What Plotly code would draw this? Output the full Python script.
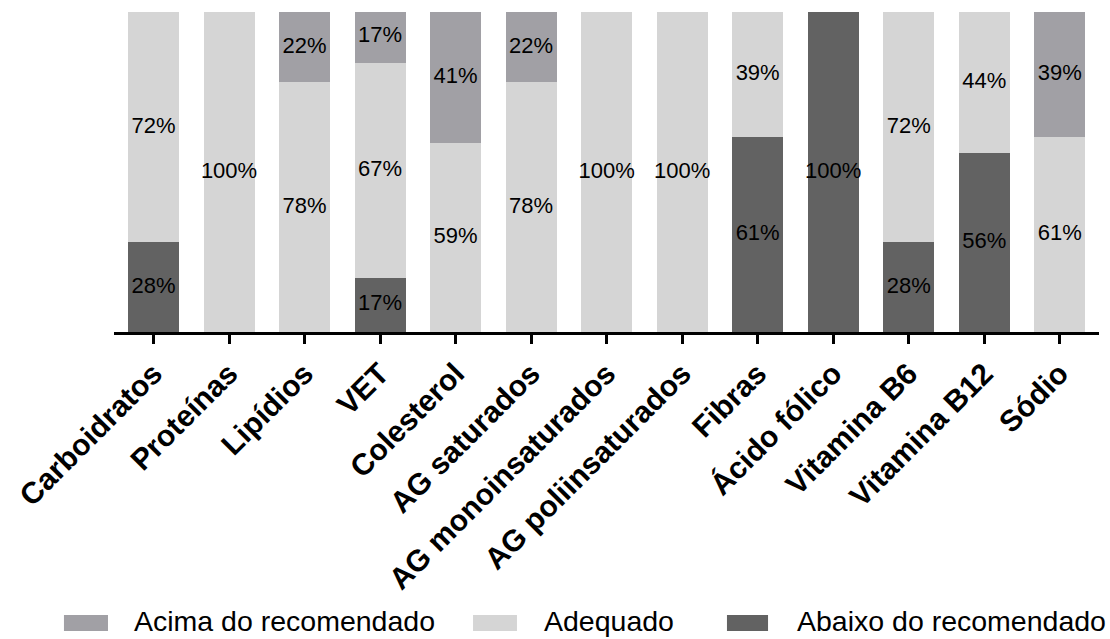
import plotly.graph_objects as go

# Nutrient categories (x axis)
categories = [
    "Carboidratos", "Proteínas", "Lipídios", "VET", "Colesterol",
    "AG saturados", "AG monoinsaturados", "AG poliinsaturados", "Fibras",
    "Ácido fólico", "Vitamina B6", "Vitamina B12", "Sódio",
]

# Share of participants (%) in each intake class
abaixo = [28, 0, 0, 17, 0, 0, 0, 0, 61, 100, 28, 56, 0]
adequado = [72, 100, 78, 67, 59, 78, 100, 100, 39, 0, 72, 44, 61]
acima = [0, 0, 22, 17, 41, 22, 0, 0, 0, 0, 0, 0, 39]

series_names = ["Abaixo do recomendado", "Adequado", "Acima do recomendado"]
series_values = [abaixo, adequado, acima]
series_colors = ["#626262", "#d5d5d5", "#a1a0a5"]

FONT = "Liberation Sans, Arial, sans-serif"

fig = go.Figure()

# Stacked bars, bottom to top
for name, vals, color in zip(series_names, series_values, series_colors):
    fig.add_trace(go.Bar(
        x=categories, y=vals, name=name,
        marker=dict(color=color, line=dict(width=0)),
        width=0.675, showlegend=False, hoverinfo="skip",
    ))

# Percentage labels at the middle of each non-empty segment
lab_x, lab_y, lab_t = [], [], []
base = [0] * len(categories)
for vals in series_values:
    for i, v in enumerate(vals):
        if v > 0:
            lab_x.append(categories[i])
            lab_y.append(base[i] + v / 2)
            lab_t.append(f"{v}%")
        base[i] += v

fig.add_trace(go.Scatter(
    x=lab_x, y=lab_y, text=lab_t, mode="text",
    textposition="middle center",
    textfont=dict(family=FONT, size=22, color="#000000"),
    showlegend=False, hoverinfo="skip", cliponaxis=False,
))

fig.update_layout(
    barmode="stack",
    width=1110, height=639,
    margin=dict(l=114, r=11, t=12, b=307),
    paper_bgcolor="white", plot_bgcolor="white",
    font=dict(family=FONT, color="#000000"),
    xaxis=dict(
        range=[-0.523, 12.52],
        showline=True, linecolor="#000000", linewidth=3,
        ticks="outside", ticklen=9, tickwidth=3, tickcolor="#000000",
        tickangle=-45,
        tickfont=dict(family=FONT, size=30, color="#000000", weight="bold"),
        showgrid=False, zeroline=False,
    ),
    yaxis=dict(range=[0, 100], visible=False, showgrid=False, zeroline=False),
)

# Legend row drawn as swatches + text below the axis labels
legend_items = [
    ("Acima do recomendado", "#a1a0a5", -0.0508, -0.0061, 0.0183),
    ("Adequado", "#d5d5d5", 0.3645, 0.4091, 0.4345),
    ("Abaixo do recomendado", "#626262", 0.6223, 0.6640, 0.6914),
]
for text, color, x0, x1, tx in legend_items:
    fig.add_shape(
        type="rect", xref="paper", yref="paper",
        x0=x0, x1=x1, y0=-0.934, y1=-0.884,
        fillcolor=color, line=dict(width=0),
    )
    fig.add_annotation(
        xref="paper", yref="paper", x=tx, y=-0.903,
        xanchor="left", yanchor="middle", showarrow=False,
        text=text, font=dict(family=FONT, size=28.5, color="#000000"),
    )

fig.write_html("out.html")
